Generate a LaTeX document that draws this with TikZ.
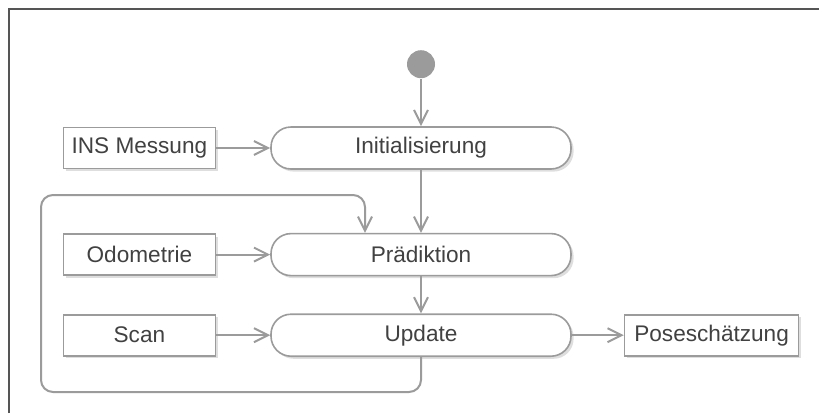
\documentclass[tikz,border=0pt]{standalone}
\usepackage{fontspec}
\setmainfont{Liberation Sans}
\usetikzlibrary{positioning, arrows.meta, shadows}
\definecolor{linegray}{RGB}{155,155,155}
\definecolor{textgray}{RGB}{65,65,65}
\definecolor{framegray}{RGB}{85,85,85}
\tikzset{
    every node/.style={font=\fontsize{11.3}{13}\selectfont, text=textgray}, % Text look
    boxshadow/.style={drop shadow={shadow xshift=1.3pt, shadow yshift=-1.3pt, fill=black!13, opacity=1}},
    action/.style={draw=linegray, line width=0.8pt, fill=white, rounded corners=10pt,
        minimum width=150pt, minimum height=21pt, boxshadow}, % Activities
    input/.style={draw=linegray, line width=0.8pt, fill=white,
        minimum width=76pt, minimum height=20.5pt, boxshadow}, % Inputs and outputs
    start/.style={circle, fill=linegray, minimum size=14pt, inner sep=0pt},
}

\begin{document}
\begin{tikzpicture}[x=0.5pt, y=-0.5pt, ->, >={Straight Barb[length=7pt,width=7pt]},
        line width=1pt, draw=linegray, node distance=27pt]
        \useasboundingbox (0,0) rectangle (819,413);
        \draw[-, framegray] (9,413) -- (9,9) -- (819,9);

        % Main path
        \node (n1) [action] at (421,148) {Initialisierung};
        \node (n0) [start, above=23.5pt of n1] {};
        \node (n2) [action, below=31.5pt of n1] {Prädiktion};
        \node (n3) [action, below=18.5pt of n2] {Update};

        % Inputs and result
        \node (n4) [input, left=of n1] {INS Messung};
        \node (n5) [input, left=of n2] {Odometrie};
        \node (n6) [input, left=of n3] {Scan};
        \node (n7) [input, right=26pt of n3, minimum width=87pt] {Poseschätzung};

        % Transitions
        \path (n0) edge (n1)
              (n1) edge (n2)
              (n2) edge (n3)
              (n4) edge (n1)
              (n5) edge (n2)
              (n6) edge (n3)
              (n3) edge (n7);

        % Loop back
        \draw[rounded corners=6pt] (n3.south) -- ++(0,35) -| (41,195)
              -| ([xshift=-28pt]n2.north);
    \end{tikzpicture}
\end{document}
